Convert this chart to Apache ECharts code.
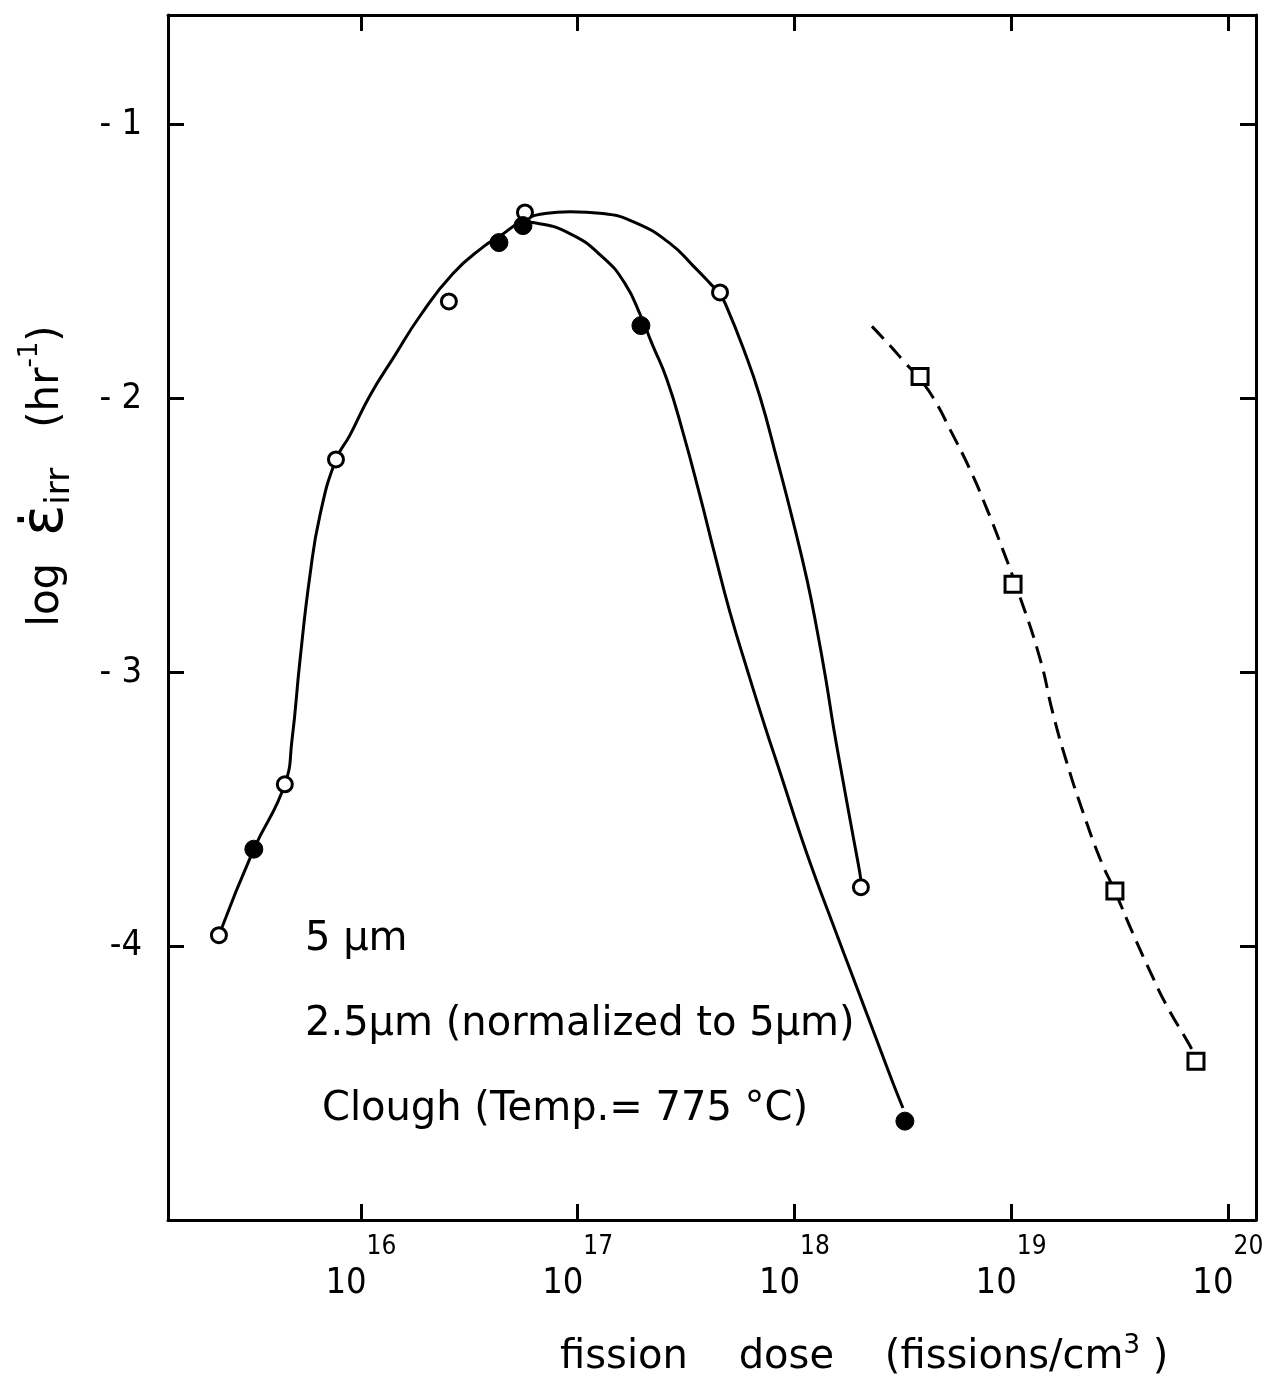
<!DOCTYPE html>
<html><head><meta charset="utf-8">
<script src="https://cdn.jsdelivr.net/npm/echarts@6/dist/echarts.min.js"></script>
<style>html,body{margin:0;padding:0;background:#fff}#c{width:1286px;height:1382px}</style>
</head><body><div id="c"></div>
<script>
// x values are log10 of fission dose (fissions/cm^3); y values are log strain rate (hr^-1)
const xTickExponents = [16, 17, 18, 19, 20];
const yTickValues = [-4, -3, -2, -1];
const yTickLabels = ['-4', '- 3', '- 2', '- 1'];

const legendTexts = ['5 µm', '2.5µm (normalized to 5µm)', 'Clough (Temp.= 775 °C)'];

// measured points
const points5um = [[15.345,-3.960],[15.649,-3.409],[15.885,-2.223],[16.406,-1.646],[16.757,-1.321],[17.657,-1.613],[18.307,-3.785]];
const points25um = [[15.506,-3.646],[16.637,-1.431],[16.748,-1.369],[17.292,-1.734],[18.510,-4.639]];
const pointsClough = [[18.580,-1.920],[19.009,-2.679],[19.479,-3.799],[19.853,-4.420]];

// hand-drawn curves
const curve5um = [[15.345,-3.960],[15.506,-3.646],[15.649,-3.409],[15.682,-3.248],[15.719,-2.956],[15.765,-2.646],[15.811,-2.427],[15.885,-2.223],[15.949,-2.135],[16.042,-1.989],[16.157,-1.843],[16.272,-1.700],[16.425,-1.544],[16.572,-1.442],[16.637,-1.410],[16.748,-1.350],[16.849,-1.325],[16.964,-1.318],[17.117,-1.325],[17.274,-1.361],[17.426,-1.434],[17.532,-1.515],[17.611,-1.580],[17.657,-1.620],[17.689,-1.668],[17.763,-1.814],[17.841,-1.993],[17.920,-2.223],[17.994,-2.449],[18.058,-2.661],[18.104,-2.843],[18.146,-3.029],[18.183,-3.212],[18.224,-3.394],[18.266,-3.577],[18.300,-3.723],[18.307,-3.760]];
const curve25um = [[16.748,-1.355],[16.794,-1.358],[16.964,-1.398],[17.117,-1.485],[17.218,-1.580],[17.292,-1.700],[17.343,-1.800],[17.412,-1.931],[17.486,-2.124],[17.564,-2.354],[17.634,-2.573],[17.703,-2.781],[17.786,-3.000],[17.864,-3.197],[17.943,-3.387],[18.021,-3.577],[18.095,-3.745],[18.178,-3.920],[18.270,-4.113],[18.363,-4.307],[18.455,-4.500],[18.501,-4.591]];
const curveClough = [[18.358,-1.737],[18.441,-1.807],[18.510,-1.869],[18.580,-1.930],[18.650,-2.010],[18.718,-2.113],[18.810,-2.259],[18.889,-2.405],[18.963,-2.555],[19.030,-2.700],[19.133,-2.949],[19.193,-3.150],[19.258,-3.332],[19.332,-3.511],[19.410,-3.680],[19.479,-3.800],[19.560,-3.950],[19.640,-4.090],[19.719,-4.219],[19.826,-4.365],[19.853,-4.410]];

const FONT_C = "'DejaVu Sans Condensed','DejaVu Sans',sans-serif";
const FONT = "'DejaVu Sans',sans-serif";
const chart = echarts.init(document.getElementById('c'), null, {renderer: 'canvas'});

const axisLineStyle = {color: '#000', width: 3};
const tickStyle = {show: true, inside: true, length: 16, lineStyle: {color: '#000', width: 3}};

const option = {
  backgroundColor: '#fff',
  animation: false,
  grid: {left: 168, right: 30, top: 15, bottom: 162, containLabel: false},
  xAxis: [
    {type: 'value', position: 'bottom', min: 15.11, max: 20.13,
     axisLine: {show: true, lineStyle: axisLineStyle},
     axisTick: Object.assign({customValues: xTickExponents}, tickStyle),
     splitLine: {show: false},
     axisLabel: {customValues: xTickExponents, margin: 14, color: '#000',
       formatter: v => '{b|10}{s|' + v + '}',
       rich: {b: {fontFamily: FONT_C, fontSize: 36, lineHeight: 68, verticalAlign: 'bottom', color: '#000'},
              s: {fontFamily: FONT_C, fontSize: 26, lineHeight: 26, verticalAlign: 'top', color: '#000'}}}},
    {type: 'value', position: 'top', min: 15.11, max: 20.13,
     axisLine: {show: true, lineStyle: axisLineStyle},
     axisTick: Object.assign({customValues: xTickExponents}, tickStyle),
     splitLine: {show: false}, axisLabel: {show: false}}
  ],
  yAxis: [
    {type: 'value', position: 'left', min: -5, max: -0.6,
     axisLine: {show: true, lineStyle: axisLineStyle},
     axisTick: Object.assign({customValues: yTickValues}, tickStyle),
     splitLine: {show: false},
     axisLabel: {customValues: yTickValues, margin: 26, color: '#000', fontFamily: FONT_C, fontSize: 36,
       formatter: v => yTickLabels[yTickValues.indexOf(v)]}},
    {type: 'value', position: 'right', min: -5, max: -0.6,
     axisLine: {show: true, lineStyle: axisLineStyle},
     axisTick: Object.assign({customValues: yTickValues}, tickStyle),
     splitLine: {show: false}, axisLabel: {show: false}}
  ],
  series: [
    {name: legendTexts[0] + ' curve', type: 'line', data: curve5um, smooth: 0.5, showSymbol: false,
     lineStyle: {color: '#000', width: 3}, z: 2},
    {name: legendTexts[1] + ' curve', type: 'line', data: curve25um, smooth: 0.5, showSymbol: false,
     lineStyle: {color: '#000', width: 3}, z: 2},
    {name: legendTexts[2] + ' curve', type: 'line', data: curveClough, smooth: 0.5, showSymbol: false,
     lineStyle: {color: '#000', width: 3, type: [17, 9]}, z: 2},
    {name: legendTexts[0], type: 'scatter', data: points5um, symbol: 'circle', symbolSize: 15,
     itemStyle: {color: '#fff', borderColor: '#000', borderWidth: 3, opacity: 1}, z: 5},
    {name: legendTexts[1], type: 'scatter', data: points25um, symbol: 'circle', symbolSize: 18,
     itemStyle: {color: '#000', borderColor: '#000', borderWidth: 1, opacity: 1}, z: 6},
    {name: legendTexts[2], type: 'scatter', data: pointsClough, symbol: 'rect', symbolSize: 16,
     itemStyle: {color: '#fff', borderColor: '#000', borderWidth: 3, opacity: 1}, z: 5}
  ],
  graphic: [
    {type: 'text', x: 305, y: 940, style: {text: legendTexts[0], font: '40px ' + FONT, fill: '#000', verticalAlign: 'middle'}},
    {type: 'text', x: 305, y: 1025, style: {text: legendTexts[1], font: '40px ' + FONT, fill: '#000', verticalAlign: 'middle'}},
    {type: 'text', x: 322, y: 1110, style: {text: legendTexts[2], font: '40px ' + FONT, fill: '#000', verticalAlign: 'middle'}},
    {type: 'text', x: 560, y: 1358, style: {
      text: '{b|fission    dose    (fissions/cm}{s|3}{b| )}', fill: '#000',
      align: 'left', verticalAlign: 'middle',
      rich: {b: {fontFamily: FONT, fontSize: 40, lineHeight: 50, verticalAlign: 'middle'},
             s: {fontFamily: FONT, fontSize: 26, lineHeight: 26, verticalAlign: 'top'}}}},
    {type: 'text', x: 47, y: 476, rotation: Math.PI / 2, style: {
      text: '{b|log  }{e|\u03B5\u0307}{u|irr}{b|   (hr}{p|-1}{b|)}', fill: '#000',
      align: 'center', verticalAlign: 'middle',
      rich: {b: {fontFamily: FONT, fontSize: 42, lineHeight: 60, verticalAlign: 'middle'},
             e: {fontFamily: FONT, fontSize: 58, lineHeight: 60, verticalAlign: 'middle'},
             u: {fontFamily: FONT, fontSize: 34, lineHeight: 34, verticalAlign: 'bottom'},
             p: {fontFamily: FONT, fontSize: 26, lineHeight: 26, verticalAlign: 'top'}}}}
  ]
};
chart.setOption(option);
</script></body></html>
